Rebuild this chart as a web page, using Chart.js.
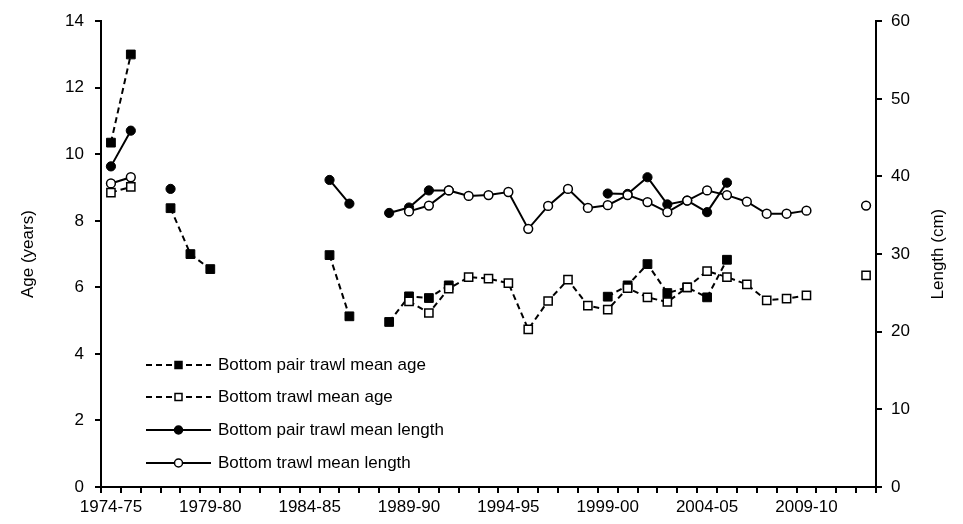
<!DOCTYPE html>
<html>
<head>
<meta charset="utf-8">
<script src="https://cdn.jsdelivr.net/npm/chart.js@4/dist/chart.umd.min.js"></script>
<style>
  html, body { margin: 0; padding: 0; background: #fff; }
  .chart-box { width: 963px; height: 524px; }
</style>
</head>
<body>
<div class="chart-box"><canvas id="chart"></canvas></div>
<script>
// fishing seasons on the x axis
const seasons = [
  "1974-75", "1975-76", "1976-77", "1977-78", "1978-79",
  "1979-80", "1980-81", "1981-82", "1982-83", "1983-84",
  "1984-85", "1985-86", "1986-87", "1987-88", "1988-89",
  "1989-90", "1990-91", "1991-92", "1992-93", "1993-94",
  "1994-95", "1995-96", "1996-97", "1997-98", "1998-99",
  "1999-00", "2000-01", "2001-02", "2002-03", "2003-04",
  "2004-05", "2005-06", "2006-07", "2007-08", "2008-09",
  "2009-10", "2010-11", "2011-12", "2012-13",
];

// mean age (years), left axis
const pairTrawlAge = [
  10.35, 13.0, null, 8.38, 7.0, 6.55, null, null, null, null,
  null, 6.97, 5.13, null, 4.96, 5.73, 5.68, 6.06, null, null,
  null, null, null, null, null, 5.72, 6.06, 6.7, 5.83, 6.0,
  5.7, 6.83, null, null, null, null, null, null, null,
];
const bottomTrawlAge = [
  8.85, 9.02, null, null, null, null, null, null, null, null,
  null, null, null, null, null, 5.58, 5.23, 5.96, 6.31, 6.26,
  6.13, 4.74, 5.59, 6.23, 5.45, 5.33, 5.98, 5.7, 5.56, 6.0,
  6.49, 6.31, 6.09, 5.61, 5.66, 5.76, null, null, 6.36,
];

// mean length (cm), right axis
const pairTrawlLength = [
  41.3, 45.9, null, 38.4, null, null, null, null, null, null,
  null, 39.55, 36.5, null, 35.3, 36.0, 38.2, 38.2, null, null,
  null, null, null, null, null, 37.8, 37.75, 39.9, 36.4, 36.9,
  35.4, 39.2, null, null, null, null, null, null, null,
];
const bottomTrawlLength = [
  39.1, 39.9, null, null, null, null, null, null, null, null,
  null, null, null, null, null, 35.5, 36.25, 38.2, 37.5, 37.6,
  38.0, 33.25, 36.2, 38.4, 35.95, 36.3, 37.6, 36.7, 35.4, 36.9,
  38.2, 37.6, 36.75, 35.2, 35.2, 35.6, null, null, 36.25,
];

const ageTicks = [0, 2, 4, 6, 8, 10, 12, 14];
const lengthTicks = [0, 10, 20, 30, 40, 50, 60];

const FONT = '"Liberation Sans", Arial, sans-serif';
const FONT_SIZE = 17;
const INK = "#000";

// legend drawn inside the plot, lower left
const legendPlugin = {
  id: "insideLegend",
  afterDraw(chart) {
    const ctx = chart.ctx;
    const rows = [365, 397, 430, 463];
    ctx.save();
    ctx.font = FONT_SIZE + "px " + FONT;
    ctx.textBaseline = "middle";
    chart.data.datasets.forEach((ds, i) => {
      const y = rows[i];
      ctx.strokeStyle = INK;
      ctx.lineWidth = 2;
      ctx.setLineDash(ds.borderDash || []);
      ctx.beginPath();
      ctx.moveTo(146, y);
      ctx.lineTo(211, y);
      ctx.stroke();
      ctx.setLineDash([]);
      ctx.lineWidth = 1.5;
      ctx.fillStyle = ds.pointBackgroundColor;
      if (ds.pointStyle === "rect") {
        ctx.fillRect(175, y - 3.5, 7, 7);
        ctx.strokeRect(175, y - 3.5, 7, 7);
      } else {
        ctx.beginPath();
        ctx.arc(178.5, y, 4, 0, Math.PI * 2);
        ctx.fill();
        ctx.stroke();
      }
      ctx.fillStyle = INK;
      ctx.textAlign = "left";
      ctx.fillText(ds.label, 218, y);
    });

    // axis titles, both reading bottom to top
    const area = chart.chartArea;
    const midY = (area.top + area.bottom) / 2;
    ctx.textAlign = "center";
    [["Age (years)", 28], ["Length (cm)", 938]].forEach(([txt, x]) => {
      ctx.save();
      ctx.translate(x, midY);
      ctx.rotate(-Math.PI / 2);
      ctx.fillText(txt, 0, 0);
      ctx.restore();
    });
    ctx.restore();
  },
};

const axisGrid = {
  drawOnChartArea: false,
  drawTicks: true,
  tickLength: 6,
  color: INK,
  lineWidth: 2,
};

new Chart(document.getElementById("chart"), {
  type: "line",
  data: {
    labels: seasons,
    datasets: [
      {
        label: "Bottom pair trawl mean age",
        data: pairTrawlAge,
        yAxisID: "age",
        borderColor: INK,
        borderWidth: 2,
        borderDash: [6, 4],
        pointStyle: "rect",
        pointRadius: 6.2,
        pointBackgroundColor: INK,
        pointBorderColor: INK,
        pointBorderWidth: 1,
        order: 2,
      },
      {
        label: "Bottom trawl mean age",
        data: bottomTrawlAge,
        yAxisID: "age",
        borderColor: INK,
        borderWidth: 2,
        borderDash: [6, 4],
        pointStyle: "rect",
        pointRadius: 5.8,
        pointBackgroundColor: "#fff",
        pointBorderColor: INK,
        pointBorderWidth: 1.5,
        order: 1,
      },
      {
        label: "Bottom pair trawl mean length",
        data: pairTrawlLength,
        yAxisID: "length",
        borderColor: INK,
        borderWidth: 2,
        pointStyle: "circle",
        pointRadius: 4.6,
        pointBackgroundColor: INK,
        pointBorderColor: INK,
        pointBorderWidth: 1,
        order: 2,
      },
      {
        label: "Bottom trawl mean length",
        data: bottomTrawlLength,
        yAxisID: "length",
        borderColor: INK,
        borderWidth: 2,
        pointStyle: "circle",
        pointRadius: 4.4,
        pointBackgroundColor: "#fff",
        pointBorderColor: INK,
        pointBorderWidth: 1.5,
        order: 1,
      },
    ],
  },
  options: {
    responsive: true,
    maintainAspectRatio: false,
    animation: false,
    spanGaps: false,
    layout: { padding: { top: 20, left: 0, right: 0, bottom: 0 } },
    plugins: {
      legend: { display: false },
      tooltip: { enabled: false },
    },
    scales: {
      x: {
        type: "category",
        offset: true,
        grid: { ...axisGrid, offset: true },
        border: { display: true, color: INK, width: 2 },
        ticks: {
          autoSkip: false,
          maxRotation: 0,
          color: INK,
          font: { family: FONT, size: FONT_SIZE },
          padding: 4,
          callback: (v, i) => (i % 5 === 0 ? seasons[i] : ""),
        },
        afterFit: (s) => { s.height = 37; },
      },
      age: {
        position: "left",
        min: ageTicks[0],
        max: ageTicks[ageTicks.length - 1],
        afterBuildTicks: (s) => { s.ticks = ageTicks.map((v) => ({ value: v })); },
        grid: axisGrid,
        border: { display: true, color: INK, width: 2 },
        ticks: { color: INK, font: { family: FONT, size: FONT_SIZE }, padding: 11 },
        afterFit: (s) => { s.width = 101; },
      },
      length: {
        position: "right",
        min: lengthTicks[0],
        max: lengthTicks[lengthTicks.length - 1],
        afterBuildTicks: (s) => { s.ticks = lengthTicks.map((v) => ({ value: v })); },
        grid: axisGrid,
        border: { display: true, color: INK, width: 2 },
        ticks: { color: INK, font: { family: FONT, size: FONT_SIZE }, padding: 9 },
        afterFit: (s) => { s.width = 87; },
      },
    },
  },
  plugins: [legendPlugin],
});
</script>
</body>
</html>
